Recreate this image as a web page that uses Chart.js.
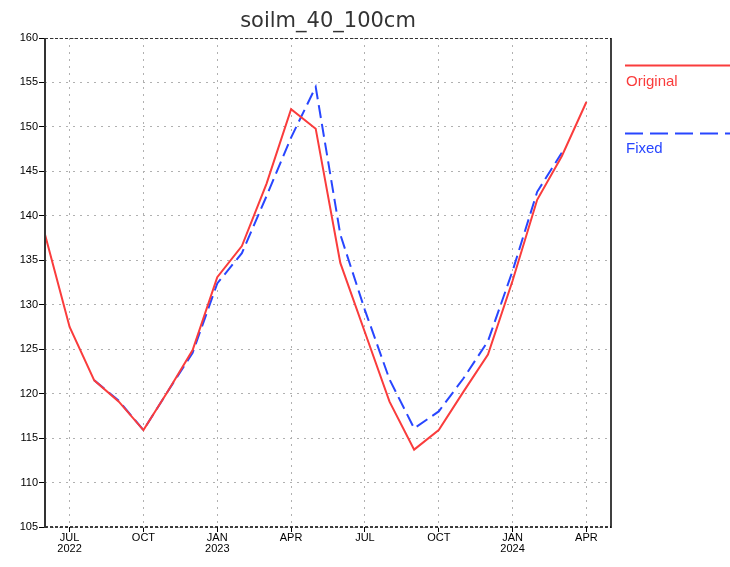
<!DOCTYPE html>
<html>
<head>
<meta charset="utf-8">
<script src="https://cdn.jsdelivr.net/npm/chart.js@4/dist/chart.umd.min.js"></script>
<style>
  html, body { margin: 0; padding: 0; background: #fff; }
  #wrap { width: 730px; height: 567px; position: relative; }
</style>
</head>
<body>
<div id="wrap"><canvas id="c" width="730" height="567"></canvas></div>
<script>
// Months Jun 2022 .. May 2024
const months = ['JUN 2022','JUL 2022','AUG 2022','SEP 2022','OCT 2022','NOV 2022','DEC 2022',
  'JAN 2023','FEB 2023','MAR 2023','APR 2023','MAY 2023','JUN 2023','JUL 2023','AUG 2023','SEP 2023',
  'OCT 2023','NOV 2023','DEC 2023','JAN 2024','FEB 2024','MAR 2024','APR 2024','MAY 2024'];
const xTickLabels = ['', ['JUL','2022'], '', '', 'OCT', '', '', ['JAN','2023'], '', '', 'APR', '', '',
  'JUL', '', '', 'OCT', '', '', ['JAN','2024'], '', '', 'APR', ''];
const original = [137.9, 127.5, 121.5, 119.1, 115.9, 120.3, 124.9, 133.1, 136.6, 143.6, 152.0, 149.8,
  134.7, 126.9, 119.1, 113.7, 115.9, 120.2, 124.4, 132.7, 141.8, 146.7, 152.8, null];
const fixed = [null, null, 121.5, 119.2, 115.9, 120.3, 124.6, 132.4, 135.8, 142.2, 148.8, 154.5,
  137.9, 129.4, 121.6, 116.1, 118.0, 121.7, 125.9, 133.8, 142.7, 147.1, null, null];
const yTicks = [105, 110, 115, 120, 125, 130, 135, 140, 145, 150, 155, 160];
const titleText = 'soilm_40_100cm';
const seriesNames = ['Original', 'Fixed'];

const RED = 'rgb(250,60,60)';
const BLUE = 'rgb(40,70,255)';
const isQuarter = i => xTickLabels[i] !== '';

const framePlugin = {
  id: 'frame',
  afterDraw(chart) {
    const { ctx, chartArea: a } = chart;
    ctx.save();
    // top dashed
    ctx.strokeStyle = '#333'; ctx.lineWidth = 1; ctx.setLineDash([3, 2]);
    ctx.beginPath(); ctx.moveTo(a.left, a.top + 0.5); ctx.lineTo(a.right, a.top + 0.5); ctx.stroke();
    // bottom dashed
    ctx.strokeStyle = '#000'; ctx.lineWidth = 1.5;
    ctx.beginPath(); ctx.moveTo(a.left, a.bottom); ctx.lineTo(a.right, a.bottom); ctx.stroke();
    ctx.setLineDash([]);
    // left solid
    ctx.strokeStyle = '#333'; ctx.lineWidth = 2;
    ctx.beginPath(); ctx.moveTo(a.left, a.top); ctx.lineTo(a.left, a.bottom + 1); ctx.stroke();
    // right solid
    ctx.strokeStyle = '#000'; ctx.lineWidth = 1.5;
    ctx.beginPath(); ctx.moveTo(a.right, a.top); ctx.lineTo(a.right, a.bottom + 1); ctx.stroke();

    // title
    ctx.fillStyle = '#333';
    ctx.font = '21px "DejaVu Sans"';
    ctx.textAlign = 'center'; ctx.textBaseline = 'alphabetic';
    ctx.fillText(titleText, (a.left + a.right) / 2, 27);

    // legend
    const lx = a.right + 14;
    ctx.textAlign = 'left';
    ctx.font = '15px "Liberation Sans"';
    ctx.strokeStyle = RED; ctx.lineWidth = 2;
    ctx.beginPath(); ctx.moveTo(lx, 65.5); ctx.lineTo(730, 65.5); ctx.stroke();
    ctx.fillStyle = RED; ctx.fillText(seriesNames[0], lx + 1, 86);
    ctx.strokeStyle = BLUE; ctx.setLineDash([18, 7]);
    ctx.beginPath(); ctx.moveTo(lx, 133.5); ctx.lineTo(730, 133.5); ctx.stroke();
    ctx.setLineDash([]);
    ctx.fillStyle = BLUE; ctx.fillText(seriesNames[1], lx + 1, 153);
    ctx.restore();
  }
};

new Chart(document.getElementById('c'), {
  type: 'line',
  data: {
    labels: months,
    datasets: [
      { label: seriesNames[0], data: original, borderColor: RED, borderWidth: 2, pointRadius: 0, tension: 0, fill: false, spanGaps: false },
      { label: seriesNames[1], data: fixed, borderColor: BLUE, borderWidth: 2, borderDash: [13, 6], pointRadius: 0, tension: 0, fill: false, spanGaps: false }
    ]
  },
  options: {
    responsive: false,
    animation: false,
    devicePixelRatio: 1,
    layout: { padding: { top: 38, right: 119, left: 0, bottom: 0 } },
    plugins: { legend: { display: false }, tooltip: { enabled: false }, title: { display: false } },
    scales: {
      x: {
        type: 'category',
        offset: false,
        grid: {
          offset: false,
          color: c => isQuarter(c.index) ? '#b0b0b0' : 'rgba(0,0,0,0)',
          tickColor: c => isQuarter(c.index) ? '#000' : 'rgba(0,0,0,0)',
          lineWidth: 1,
          drawTicks: true,
          tickLength: 5
        },
        border: { display: false, dash: [2, 5] },
        ticks: {
          autoSkip: false, maxRotation: 0, minRotation: 0, padding: 1,
          color: '#000',
          font: { family: '"Liberation Sans Narrow", "Liberation Sans"', size: 11, lineHeight: 0.95 },
          callback: (v, i) => xTickLabels[i]
        },
        afterFit: s => { s.height = 40; }
      },
      y: {
        min: 105, max: 160,
        afterBuildTicks: s => { s.ticks = yTicks.map(v => ({ value: v })); },
        grid: { color: '#b0b0b0', lineWidth: 1, drawTicks: true, tickLength: 6, tickColor: '#000' },
        border: { display: false, dash: [2, 5] },
        ticks: { padding: 1, color: '#000', font: { family: '"Liberation Sans"', size: 11 } },
        afterFit: s => { s.width = 45; }
      }
    }
  },
  plugins: [framePlugin]
});
</script>
</body>
</html>
